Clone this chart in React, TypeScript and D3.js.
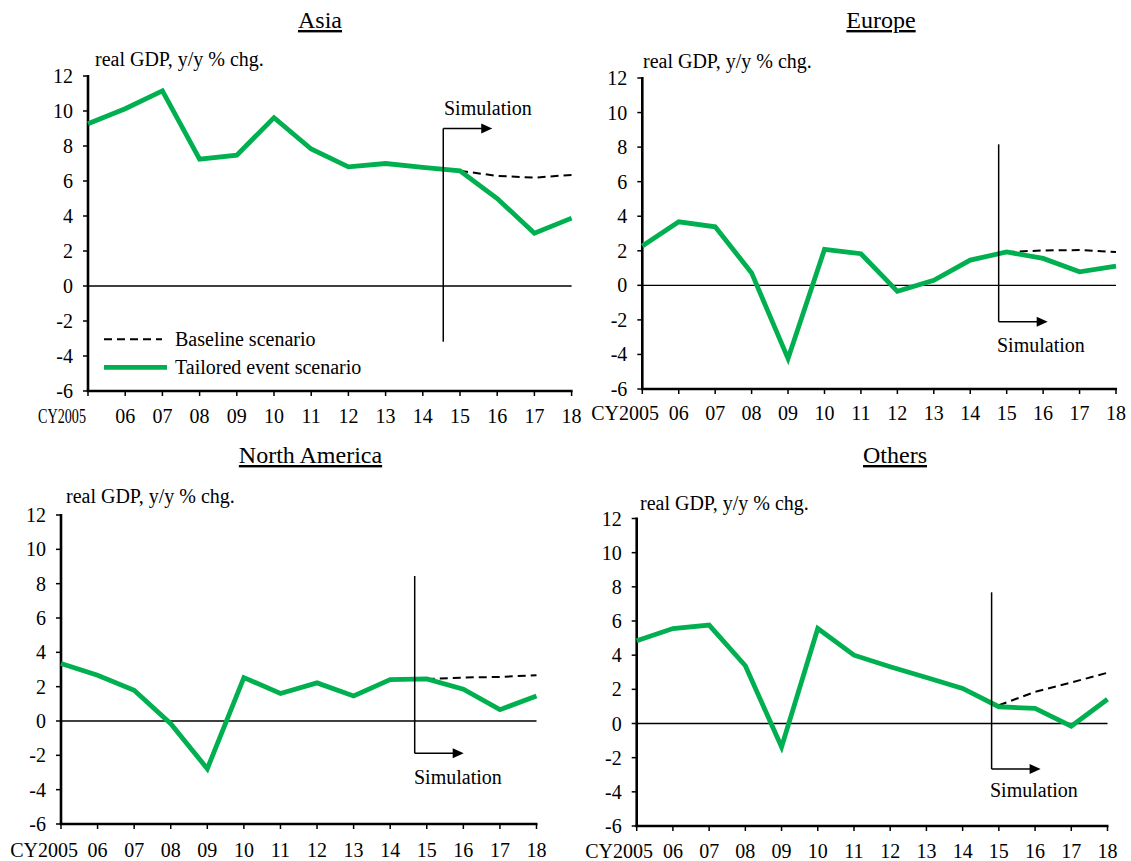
import React from "react";
import * as d3 from "d3";

// ---------- data ----------
const yearLabels = ["CY2005", "06", "07", "08", "09", "10", "11", "12", "13", "14", "15", "16", "17", "18"];
const yTickValues = [-6, -4, -2, 0, 2, 4, 6, 8, 10, 12];
const baselineStartIndex = 10; // 2015

const asiaTailored = [9.27, 10.13, 11.15, 7.25, 7.48, 9.62, 7.83, 6.81, 7.0, 6.78, 6.58, 5.0, 3.02, 3.88];
const asiaBaseline = [6.58, 6.29, 6.19, 6.35];
const europeTailored = [2.28, 3.68, 3.39, 0.72, -4.24, 2.08, 1.83, -0.35, 0.29, 1.46, 1.93, 1.56, 0.78, 1.11];
const europeBaseline = [1.93, 2.02, 2.04, 1.93];
const naTailored = [3.35, 2.67, 1.79, -0.16, -2.78, 2.53, 1.6, 2.22, 1.46, 2.41, 2.45, 1.85, 0.66, 1.46];
const naBaseline = [2.45, 2.53, 2.57, 2.67];
const othersTailored = [4.84, 5.56, 5.76, 3.38, -1.37, 5.56, 4.0, 3.32, 2.69, 2.05, 0.98, 0.88, -0.16, 1.42];
const othersBaseline = [1.07, 1.85, 2.4, 2.97];

const panelTitles = ["Asia", "Europe", "North America", "Others"];
const simulationStart = [9.55, 9.78, 9.67, 9.8]; // position in year-index units
const unitLabel = "real GDP, y/y % chg.";
const simLabel = "Simulation";
const legendLabels = ["Baseline scenario", "Tailored event scenario"];

// ---------- layout ----------
const GREEN = "#00B050";
const FONT = '"Liberation Serif", "Times New Roman", Times, "DejaVu Serif", serif';

type Layout = {
  x0: number; x1: number; yTop: number; yBot: number;
  titleX: number; titleY: number; unitX: number; unitY: number;
  xLabY: number; cyEnd: number; cyLen?: number;
  simTop: number; simBot: number; arrowTop: boolean; simTextX: number; simTextY: number;
  legend?: boolean;
};

const layouts: Layout[] = [
  { x0: 88, x1: 571.6, yTop: 76, yBot: 391, titleX: 320, titleY: 28, unitX: 95, unitY: 66, xLabY: 423, cyEnd: 86, cyLen: 48,
    simTop: 128.5, simBot: 341.7, arrowTop: true, simTextX: 444, simTextY: 115, legend: true },
  { x0: 642.3, x1: 1116, yTop: 78, yBot: 389, titleX: 881, titleY: 28, unitX: 643, unitY: 68, xLabY: 420, cyEnd: 659,
    simTop: 144.3, simBot: 321.7, arrowTop: false, simTextX: 997, simTextY: 352 },
  { x0: 61, x1: 536.5, yTop: 515, yBot: 824, titleX: 310.5, titleY: 463, unitX: 66, unitY: 503, xLabY: 857, cyEnd: 78,
    simTop: 576, simBot: 753.3, arrowTop: false, simTextX: 414, simTextY: 784 },
  { x0: 636.7, x1: 1107.5, yTop: 518.5, yBot: 826, titleX: 895, titleY: 463, unitX: 640, unitY: 510, xLabY: 858, cyEnd: 653,
    simTop: 592.3, simBot: 769, arrowTop: false, simTextX: 990, simTextY: 797 },
];

const tailoredSeries = [asiaTailored, europeTailored, naTailored, othersTailored];
const baselineSeries = [asiaBaseline, europeBaseline, naBaseline, othersBaseline];

function Panel({ idx }: { idx: number }) {
  const L = layouts[idx];
  const x = d3.scaleLinear().domain([0, yearLabels.length - 1]).range([L.x0, L.x1]);
  const y = d3.scaleLinear().domain([-6, 12]).range([L.yBot, L.yTop]);
  const line = d3.line<[number, number]>().x((d) => x(d[0])).y((d) => y(d[1]));
  const tailored = tailoredSeries[idx].map((v, i) => [i, v] as [number, number]);
  const baseline = baselineSeries[idx].map((v, i) => [i + baselineStartIndex, v] as [number, number]);
  const sx = x(simulationStart[idx]);
  const arrowY = L.arrowTop ? L.simTop : L.simBot;
  const arrowLen = 49;
  const fs = 20;

  return (
    <g>
      <text x={L.titleX} y={L.titleY} textAnchor="middle" style={{ fontSize: 24, textDecoration: "underline" }}>
        {panelTitles[idx]}
      </text>
      <text x={L.unitX} y={L.unitY} style={{ fontSize: fs }}>{unitLabel}</text>

      {yTickValues.map((t) => (
        <g key={t}>
          <line x1={L.x0 - 5} x2={L.x0} y1={y(t)} y2={y(t)} stroke="#000" strokeWidth={1.5} />
          <text x={L.x0 - 15} y={y(t)} dy="0.35em" textAnchor="end" style={{ fontSize: fs }}>{t}</text>
        </g>
      ))}
      <line x1={L.x0} x2={L.x1} y1={y(0)} y2={y(0)} stroke="#000" strokeWidth={1.3} />

      {yearLabels.map((lab, i) => (
        <g key={lab}>
          <line x1={x(i)} x2={x(i)} y1={L.yBot} y2={L.yBot + 5} stroke="#000" strokeWidth={1.5} />
          {i === 0 ? (
            <text x={L.cyEnd} y={L.xLabY} textAnchor="end" style={{ fontSize: fs }}
              {...(L.cyLen ? { textLength: L.cyLen, lengthAdjust: "spacingAndGlyphs" } : {})}>{lab}</text>
          ) : (
            <text x={x(i)} y={L.xLabY} textAnchor="middle" style={{ fontSize: fs }}>{lab}</text>
          )}
        </g>
      ))}

      <line x1={L.x0} x2={L.x0} y1={L.yTop - 1} y2={L.yBot} stroke="#000" strokeWidth={2.6} />
      <line x1={L.x0 - 1.3} x2={L.x1 + 1} y1={L.yBot} y2={L.yBot} stroke="#000" strokeWidth={2.6} />

      <path d={line(baseline) || ""} fill="none" stroke="#000" strokeWidth={2} strokeDasharray="8,5" />
      <path d={line(tailored) || ""} fill="none" stroke={GREEN} strokeWidth={4.8} strokeLinejoin="miter" />

      <line x1={sx} x2={sx} y1={L.simTop} y2={L.simBot} stroke="#000" strokeWidth={1.5} />
      <line x1={sx} x2={sx + arrowLen - 8} y1={arrowY} y2={arrowY} stroke="#000" strokeWidth={1.5} />
      <path d={`M${sx + arrowLen},${arrowY} L${sx + arrowLen - 11},${arrowY - 5} L${sx + arrowLen - 11},${arrowY + 5} Z`} fill="#000" />
      <text x={L.simTextX} y={L.simTextY} style={{ fontSize: fs }}>{simLabel}</text>

      {L.legend && (
        <g>
          <line x1={104} x2={162} y1={339.3} y2={339.3} stroke="#000" strokeWidth={2} strokeDasharray="8,5" />
          <text x={175} y={339.3} dy="0.35em" style={{ fontSize: fs }}>{legendLabels[0]}</text>
          <line x1={104} x2={167} y1={367.3} y2={367.3} stroke={GREEN} strokeWidth={4.8} />
          <text x={175} y={367.3} dy="0.35em" style={{ fontSize: fs }}>{legendLabels[1]}</text>
        </g>
      )}
    </g>
  );
}

export default function App() {
  return (
    <svg width={1131} height={861} style={{ position: "absolute", left: 0, top: 0, background: "#fff", fontFamily: FONT }}>
      <rect width={1131} height={861} fill="#fff" />
      {[0, 1, 2, 3].map((i) => <Panel key={i} idx={i} />)}
    </svg>
  );
}
